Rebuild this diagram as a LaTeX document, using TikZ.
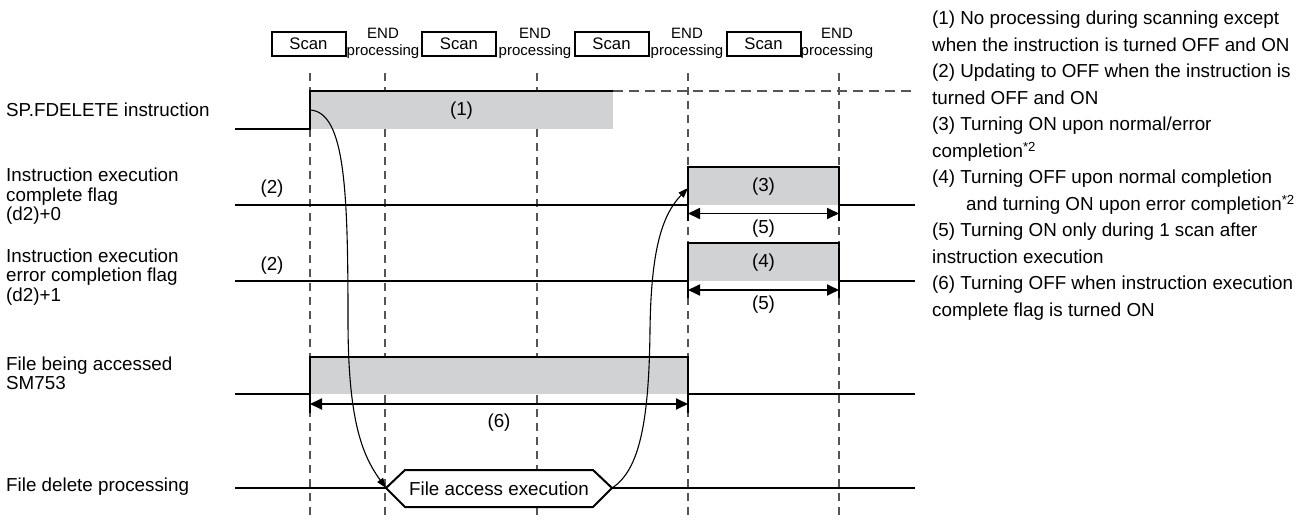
\documentclass[tikz,border=0pt]{standalone}
\usepackage{fontspec}
\setmainfont{Liberation Sans}
\usetikzlibrary{arrows.meta, positioning, calc}
\definecolor{tcfill}{RGB}{209, 210, 212}
\definecolor{tcdash}{RGB}{85, 85, 85}
\newcommand{\lblfont}{\fontsize{18.8}{19.3}\selectfont}
\newcommand{\notefont}{\fontsize{18.8}{26.5}\selectfont}

\begin{document}
\begin{tikzpicture}[x=1pt, y=-1pt,
  sig/.style={line width=2pt, line join=miter},
  grid/.style={tcdash, line width=1.5pt, dash pattern=on 8pt off 6pt},
  lbl/.style={anchor=west, align=left, inner sep=0pt, font=\lblfont},
  num/.style={inner sep=0pt, font=\lblfont},
  scanbox/.style={draw, line width=2pt, minimum width=74pt, minimum height=24pt,
    inner sep=0pt, font=\fontsize{16.7}{18}\selectfont},
  endlbl/.style={anchor=south, align=center, inner sep=0pt, font=\fontsize{15}{17}\selectfont},
  span/.style={{Triangle[length=12pt,width=11pt]}-{Triangle[length=12pt,width=11pt]}, line width=1.8pt},
  flow/.style={-{Triangle[length=10pt,width=7pt]}, line width=1.1pt}]

  \useasboundingbox (0,0) rectangle (1308,521);

  % --- scan / END processing header ---
  \node[scanbox] (scan1) at (308.5,44) {Scan};
  \node[scanbox] (scan2) at (459,44) {Scan};
  \node[scanbox] (scan3) at (611.5,44) {Scan};
  \node[scanbox] (scan4) at (763.5,44) {Scan};
  \node[endlbl] (end1) at (383,59.2) {END\\processing};
  \node[endlbl] (end2) at (535,59.2) {END\\processing};
  \node[endlbl] (end3) at (687,59.2) {END\\processing};
  \node[endlbl] (end4) at (837,59.2) {END\\processing};

  % --- dashed timing grid ---
  \draw[grid] (310,73) -- (310,521);
  \draw[grid] (385,73) -- (385,521);
  \draw[grid] (537,73) -- (537,521);
  \draw[grid] (688,73) -- (688,521);
  \draw[grid] (839,73) -- (839,521);

  % --- gray ON intervals ---
  \fill[tcfill] (310,91) rectangle (613,129.5);
  \fill[tcfill] (688,167) rectangle (839,205);
  \fill[tcfill] (688,243) rectangle (839,280.5);
  \fill[tcfill] (310,357) rectangle (688,394);

  % --- signal names ---
  \node[lbl] (lblsp)  at (6,110)   {SP.FDELETE instruction};
  \node[lbl] (lblcpl) at (6,196.3) {Instruction execution\\complete flag\\(d2)+0};
  \node[lbl] (lblerr) at (6,276.9) {Instruction execution\\error completion flag\\(d2)+1};
  \node[lbl] (lblacc) at (6,373.5) {File being accessed\\SM753};
  \node[lbl] (lbldel) at (6,487)   {File delete processing};

  % --- SP.FDELETE instruction ---
  \draw[sig] (235,129.5) -- (310,129.5) -- (310,91) -- (613,91);
  \draw[tcdash, line width=1.5pt, dash pattern=on 10pt off 6pt] (613,91) -- (915,91);
  \node[num] (n1) at (461.5,111) {(1)};
  \coordinate (fdrise) at (310,110);

  % --- complete flag (d2)+0 ---
  \draw[sig] (235,205) -- (688,205) -- (688,167) -- (839,167) -- (839,205) -- (915,205);
  \draw[sig] (688,205) -- (688,221);
  \draw[sig] (839,205) -- (839,221);
  \coordinate (cplL) at (688,213.5);
  \coordinate (cplR) at (839,213.5);
  \coordinate (cplon) at (688,188);
  \draw[span] (cplL) -- (cplR);
  \node[num] (n2a) at (272,189) {(2)};
  \node[num] (n3) at (763.5,187) {(3)};
  \node[num] (n5a) at (763.5,228.5) {(5)};

  % --- error completion flag (d2)+1 ---
  \draw[sig] (235,280.5) -- (688,280.5) -- (688,243) -- (839,243) -- (839,280.5) -- (915,280.5);
  \draw[sig] (688,280.5) -- (688,298);
  \draw[sig] (839,280.5) -- (839,298);
  \coordinate (errL) at (688,290);
  \coordinate (errR) at (839,290);
  \draw[span] (errL) -- (errR);
  \node[num] (n2b) at (272,266) {(2)};
  \node[num] (n4) at (763.5,263) {(4)};
  \node[num] (n5b) at (763.5,304.5) {(5)};

  % --- file being accessed SM753 ---
  \draw[sig] (235,394) -- (310,394) -- (310,357) -- (688,357) -- (688,394) -- (915,394);
  \draw[sig] (310,394) -- (310,413);
  \draw[sig] (688,394) -- (688,413);
  \coordinate (accL) at (310,404);
  \coordinate (accR) at (688,404);
  \draw[span] (accL) -- (accR);
  \node[num] (n6) at (499,422.5) {(6)};

  % --- file delete processing ---
  \coordinate (hexW) at (386,488);
  \coordinate (hexE) at (612,488);
  \draw[sig] (235,488) -- (hexW);
  \draw[sig] (hexE) -- (915,488);
  \filldraw[fill=white, line width=2pt, line join=miter]
    (hexW) -- (405,470) -- (593,470) -- (hexE) -- (593,507) -- (405,507) -- cycle;
  \node[num] (fax) at (499,489) {File access execution};

  % --- request / completion arrows ---
  \draw[flow] (fdrise) .. controls (345,112) and (348,190) .. (348,320)
    .. controls (348,420) and (362,455) .. (hexW);
  \draw[flow] (hexE) .. controls (640,470) and (649,420) .. (650,330)
    .. controls (651,250) and (662,215) .. (cplon);

  % --- notes ---
  \node[anchor=north west, align=left, inner sep=0pt, font=\notefont] (notes) at (932,11)
    {(1) No processing during scanning except\\
     when the instruction is turned OFF and ON\\
     (2) Updating to OFF when the instruction is\\
     turned OFF and ON\\
     (3) Turning ON upon normal/error\\
     completion\textsuperscript{*2}\\
     (4) Turning OFF upon normal completion\\
     \hspace*{34pt}and turning ON upon error completion\textsuperscript{*2}\\
     (5) Turning ON only during 1 scan after\\
     instruction execution\\
     (6) Turning OFF when instruction execution\\
     complete flag is turned ON};

\end{tikzpicture}
\end{document}
